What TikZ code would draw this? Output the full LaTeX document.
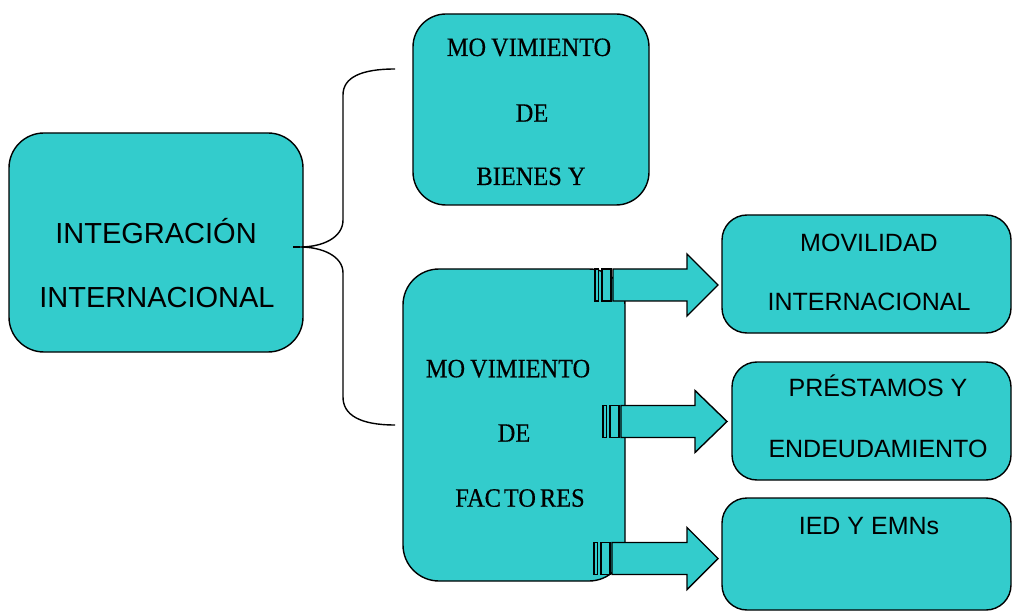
\documentclass[tikz,border=0pt]{standalone}
\usepackage{fontspec}
\setmainfont{Liberation Sans}
\newfontfamily\condserif[FakeStretch=0.92,FakeBold=0.4]{Liberation Serif}
\definecolor{boxfill}{RGB}{51,204,204}
\tikzset{
  box/.style={draw=black, line width=1.4pt, fill=boxfill, inner sep=0pt, rectangle},
  txtbig/.style={anchor=base, inner sep=0pt, font=\fontsize{29}{34}\selectfont},
  txt/.style={anchor=base, inner sep=0pt, font=\fontsize{25}{30}\selectfont},
  txtserif/.style={anchor=base, inner sep=0pt, font=\condserif\fontsize{26.5}{31}\selectfont},
  brace/.style={draw=black, line width=1.4pt},
  blockarrow/.style={draw=black, line width=1.4pt, fill=boxfill, line join=miter},
}
\begin{document}
\begin{tikzpicture}[x=1pt,y=-1pt]
\fill[white] (0,0) rectangle (1012,612);
\useasboundingbox (0,0) rectangle (1012,612);

% boxes
\node[box, rounded corners=35pt, minimum width=294pt, minimum height=219pt] (integ) at (156,242.5) {};
\node[box, rounded corners=33pt, minimum width=236pt, minimum height=191pt] (bienes) at (531,109.5) {};
\node[box, rounded corners=36pt, minimum width=222pt, minimum height=312pt] (factores) at (514,425) {};
\node[box, rounded corners=25pt, minimum width=289pt, minimum height=118pt] (movil) at (866.5,274) {};
\node[box, rounded corners=25pt, minimum width=279pt, minimum height=118pt] (prest) at (871.5,421) {};
\node[box, rounded corners=25pt, minimum width=289pt, minimum height=112pt] (ied) at (866.5,554) {};

% texts
\node[txtbig] (t1a) at (156,243.3) {INTEGRACIÓN};
\node[txtbig] (t1b) at (157,308) {INTERNACIONAL};

\node[txtserif] (t2a) at (529,56) {MO\kern5pt VIMIENTO};
\node[txtserif] (t2b) at (532,121.7) {DE};
\node[txtserif] (t2c) at (531,185) {BIENES Y};

\node[txtserif] (t3a) at (508,377.3) {MO\kern5pt VIMIENTO};
\node[txtserif] (t3b) at (514,441.7) {DE};
\node[txtserif] (t3c) at (520,506.7) {FAC\kern3pt TO\kern4pt RES};

\node[txt] (t4a) at (869,251.7) {MOVILIDAD};
\node[txt] (t4b) at (869,311) {INTERNACIONAL};
\node[txt] (t5a) at (878,396.7) {PRÉSTAMOS Y};
\node[txt] (t5b) at (878,457) {ENDEUDAMIENTO};
\node[txt] (t6a) at (869,534) {IED Y EMNs};

% brace
\coordinate (tip) at (293,247);
\coordinate (btop) at (395,69);
\coordinate (bbot) at (395,425);
\draw[brace] (btop) .. controls (360,69) and (343,78) .. (343,95) -- (343,220)
  .. controls (343,238) and (322,247) .. (300,247)
  .. controls (322,247) and (343,256) .. (343,273) -- (343,397)
  .. controls (343,415) and (360,425) .. (bbot);
\draw[brace] (tip) -- (300,247);

% striped block arrows
\foreach \xs/\yc/\hx/\tx/\nm in {595/285/687/718/arrA, 603/421.5/695/727/arrB, 594/558.5/687/718/arrC}{
  \draw[blockarrow] (\xs,\yc-16) rectangle (\xs+3.5,\yc+16);
  \draw[blockarrow] (\xs+7,\yc-16) rectangle (\xs+16,\yc+16);
  \draw[blockarrow] (\xs+18,\yc-16) -- (\hx,\yc-16) -- (\hx,\yc-31) -- (\tx,\yc)
     -- (\hx,\yc+31) -- (\hx,\yc+16) -- (\xs+18,\yc+16) -- cycle;
  \coordinate (\nm) at (\tx,\yc);
}
\end{tikzpicture}
\end{document}
